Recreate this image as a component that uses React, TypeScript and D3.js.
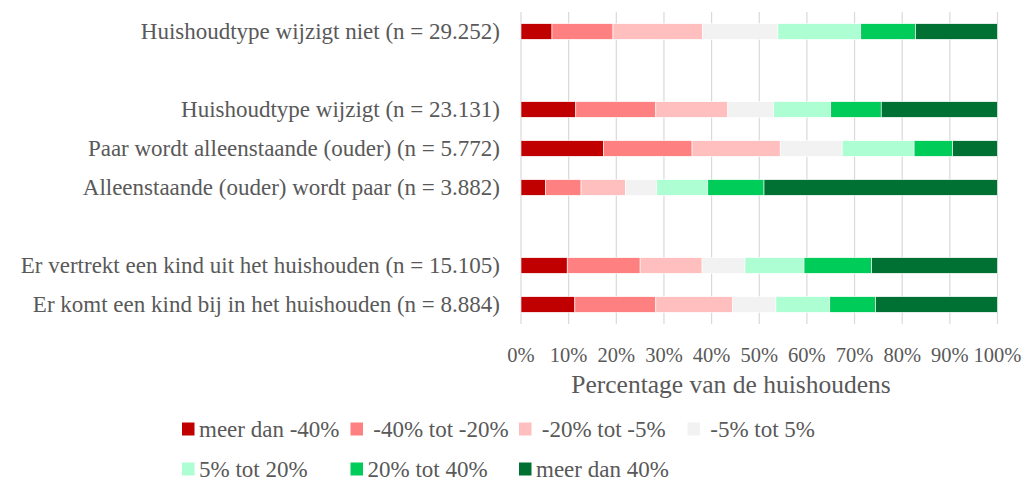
import React, { useRef, useEffect } from 'react';
import * as d3 from 'd3';

const categories = [
  'Huishoudtype wijzigt niet (n = 29.252)',
  'gap1',
  'Huishoudtype wijzigt (n = 23.131)',
  'Paar wordt alleenstaande (ouder) (n = 5.772)',
  'Alleenstaande (ouder) wordt paar (n = 3.882)',
  'gap2',
  'Er vertrekt een kind uit het huishouden (n = 15.105)',
  'Er komt een kind bij in het huishouden (n = 8.884)',
];
const rows = categories.filter(c => !c.startsWith('gap'));

const seriesNames = [
  'meer dan -40%', ' -40% tot -20%', ' -20% tot -5%', ' -5% tot 5%',
  '5% tot 20%', '20% tot 40%', 'meer dan 40%',
];
const seriesColors = ['#C00000', '#FF8080', '#FFBFBF', '#F2F2F2', '#ADFFD3', '#00CC5A', '#007033'];

// percentages per row, in order of `rows`
const meerDanMin40 = [6.5, 11.5, 17.3, 5.1, 9.7, 11.3];
const min40TotMin20 = [12.8, 16.8, 18.6, 7.5, 15.3, 17.0];
const min20TotMin5 = [18.8, 15.1, 18.5, 9.3, 13.0, 16.1];
const min5Tot5 = [15.8, 9.6, 13.0, 6.6, 9.0, 9.1];
const tot20 = [17.4, 12.0, 15.1, 10.7, 12.4, 11.3];
const tot40 = [11.5, 10.6, 8.1, 11.8, 14.2, 9.6];
const meerDan40 = [17.2, 24.4, 9.4, 49.0, 26.4, 25.6];
const seriesValues = [meerDanMin40, min40TotMin20, min20TotMin5, min5Tot5, tot20, tot40, meerDan40];

const xTicks = [0, 10, 20, 30, 40, 50, 60, 70, 80, 90, 100];

export default function App() {
  const svgRef = useRef<SVGSVGElement>(null);

  useEffect(() => {
    if (!svgRef.current) return;
    const font = '"Liberation Serif", serif';
    const textColor = '#595959';

    const svg = d3.select(svgRef.current);
    svg.selectAll('*').remove();

    const x = d3.scaleLinear().domain([0, 100]).range([521, 997.5]);
    const y = d3.scaleBand().domain(categories).range([12, 324]).paddingInner(0.6).paddingOuter(0.3);

    // grid lines
    xTicks.forEach(t => {
      svg.append('line')
        .attr('x1', x(t)).attr('x2', x(t))
        .attr('y1', 12).attr('y2', 324)
        .attr('stroke', '#D9D9D9').attr('stroke-width', 1.2);
    });

    const table = rows.map((r, i) => {
      const o: any = { cat: r };
      seriesNames.forEach((s, j) => { o[s] = seriesValues[j][i]; });
      return o;
    });
    const stacked = d3.stack().keys(seriesNames)(table);

    stacked.forEach((layer, j) => {
      svg.append('g')
        .selectAll('rect')
        .data(layer)
        .join('rect')
        .attr('x', d => x(d[0]))
        .attr('width', d => x(d[1]) - x(d[0]))
        .attr('y', d => y((d.data as any).cat)!)
        .attr('height', y.bandwidth())
        .attr('fill', seriesColors[j])
        .attr('stroke', '#ffffff')
        .attr('stroke-width', 0.6);
    });

    // category labels
    rows.forEach(r => {
      svg.append('text')
        .attr('x', 500)
        .attr('y', y(r)! + y.bandwidth() / 2)
        .attr('text-anchor', 'end')
        .attr('dominant-baseline', 'central')
        .attr('fill', textColor)
        .attr('font-family', font)
        .attr('font-size', '23px')
        .text(r);
    });

    // x tick labels
    xTicks.forEach(t => {
      svg.append('text')
        .attr('x', x(t))
        .attr('y', 355)
        .attr('text-anchor', 'middle')
        .attr('dominant-baseline', 'central')
        .attr('fill', textColor)
        .attr('font-family', font)
        .attr('font-size', '20.5px')
        .text(`${t}%`);
    });

    svg.append('text')
      .attr('x', 731)
      .attr('y', 384)
      .attr('text-anchor', 'middle')
      .attr('dominant-baseline', 'central')
      .attr('fill', textColor)
      .attr('font-family', font)
      .attr('font-size', '25.5px')
      .text('Percentage van de huishoudens');

    // legend
    seriesNames.forEach((s, i) => {
      const col = i % 4;
      const row = Math.floor(i / 4);
      const lx = 182 + col * 168.5;
      const ly = 429 + row * 40;
      svg.append('rect')
        .attr('x', lx).attr('y', ly - 6.5)
        .attr('width', 12.5).attr('height', 13)
        .attr('fill', seriesColors[i]);
      svg.append('text')
        .attr('x', lx + 17)
        .attr('y', ly)
        .attr('dominant-baseline', 'central')
        .attr('fill', textColor)
        .attr('font-family', font)
        .attr('font-size', '23px')
        .attr('xml:space', 'preserve')
        .style('white-space', 'pre')
        .text(s);
    });
  }, []);

  return (
    <svg ref={svgRef} width={1024} height={480}
      style={{ position: 'absolute', left: 0, top: 0, background: '#fff' }} />
  );
}
